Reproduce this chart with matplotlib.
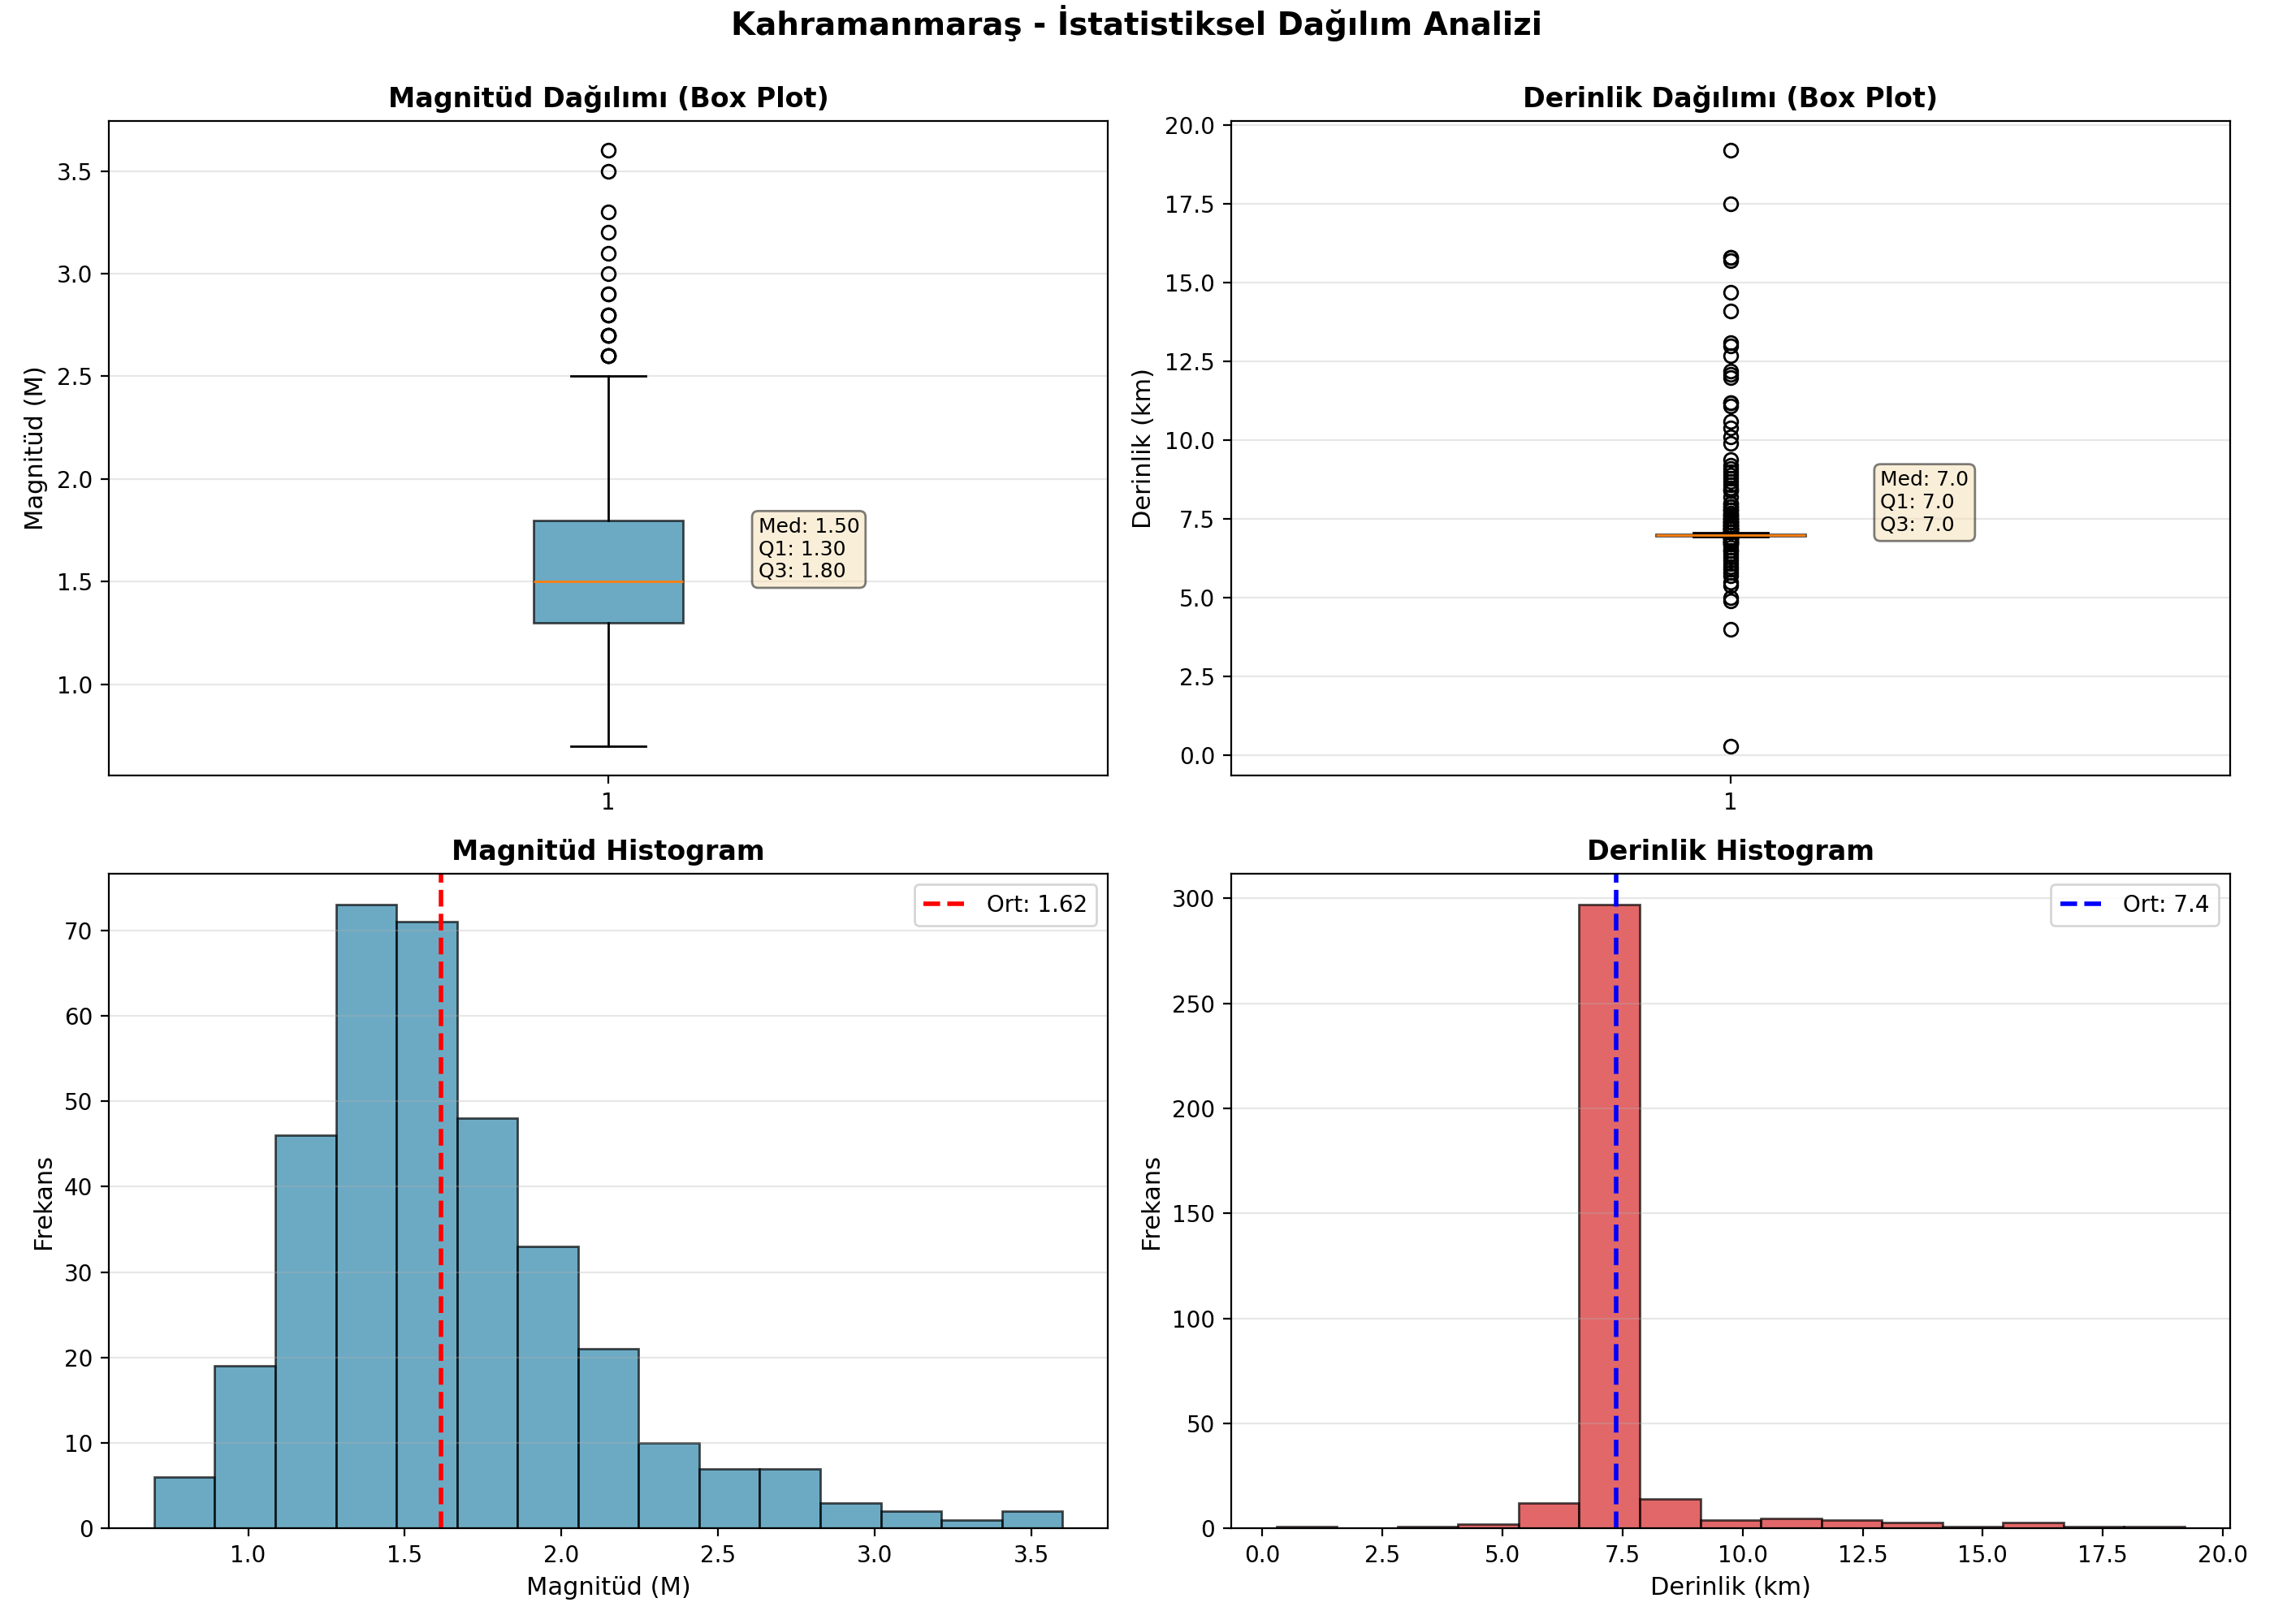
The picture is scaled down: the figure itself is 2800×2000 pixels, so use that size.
import matplotlib
matplotlib.use('Agg')
import matplotlib.pyplot as plt
import numpy as np

# Magnitude values (M) and how many events have each value
mag_values = [0.7, 0.8, 0.9, 1.0, 1.1, 1.2, 1.3, 1.4, 1.5, 1.6, 1.7, 1.8, 1.9, 2.0,
              2.1, 2.2, 2.3, 2.4, 2.5, 2.6, 2.7, 2.8, 2.9, 3.0, 3.1, 3.2, 3.3, 3.5, 3.6]
mag_counts = [2, 4, 8, 11, 21, 25, 36, 37, 38, 33, 22, 26, 18, 15,
              12, 9, 6, 4, 3, 4, 4, 3, 2, 1, 1, 1, 1, 1, 1]

# Depth values (km) and counts
depth_values = [0.3, 4.0, 4.9, 5.0, 5.4, 5.5, 5.7, 5.8, 5.9, 6.0, 6.1, 6.2, 6.3, 6.4, 6.5,
                6.6, 6.7, 6.8, 6.9, 6.93, 6.98, 7.0, 7.02, 7.07,
                7.1, 7.2, 7.3, 7.4, 7.5, 7.6, 7.7, 7.8,
                7.9, 8.0, 8.2, 8.4, 8.5, 8.6, 8.7, 8.8, 8.9, 9.0, 9.1,
                9.2, 9.4, 9.9, 10.1, 10.4, 10.6, 11.1, 11.2, 12.0, 12.1, 12.2, 12.7,
                13.0, 13.1, 14.1, 14.7, 15.7, 15.8, 17.5, 19.2]
depth_counts = [1, 1, 1, 1, 1, 1, 1, 1, 1, 1, 1, 1, 1, 1, 2,
                1, 3, 4, 5, 2, 60, 156, 30, 2,
                6, 6, 5, 5, 4, 3, 2, 3,
                2, 2, 1, 2, 1, 1, 1, 1, 1, 1, 1,
                1, 1, 1, 1, 1, 1, 1, 2, 1, 1, 1, 1,
                1, 1, 1, 1, 1, 2, 1, 1]

mags = np.repeat(mag_values, mag_counts)
depths = np.repeat(depth_values, depth_counts)

region = 'Kahramanmaraş'
color_mag = '#2E86AB'
color_depth = '#D62728'

fig, axes = plt.subplots(2, 2, figsize=(14, 10), dpi=200)
title = fig.suptitle(f'{region} - İstatistiksel Dağılım Analizi', fontsize=14, fontweight='bold')

# --- Magnitude box plot ---
ax1 = axes[0, 0]
bp = ax1.boxplot(mags, patch_artist=True, widths=0.15)
for patch in bp['boxes']:
    patch.set_facecolor(color_mag)
    patch.set_alpha(0.7)
ax1.set_title('Magnitüd Dağılımı (Box Plot)', fontsize=12, fontweight='bold')
ax1.set_ylabel('Magnitüd (M)', fontsize=11)
ax1.grid(axis='y', alpha=0.3)
q1, med, q3 = np.percentile(mags, [25, 50, 75])
ax1.text(1.15, med, f'Med: {med:.2f}\nQ1: {q1:.2f}\nQ3: {q3:.2f}',
         fontsize=9, va='bottom',
         bbox=dict(boxstyle='round', facecolor='wheat', alpha=0.5))

# --- Depth box plot ---
ax2 = axes[0, 1]
bp = ax2.boxplot(depths, patch_artist=True, widths=0.15)
for patch in bp['boxes']:
    patch.set_facecolor(color_depth)
    patch.set_alpha(0.7)
ax2.set_title('Derinlik Dağılımı (Box Plot)', fontsize=12, fontweight='bold')
ax2.set_ylabel('Derinlik (km)', fontsize=11)
ax2.grid(axis='y', alpha=0.3)
q1, med, q3 = np.percentile(depths, [25, 50, 75])
ax2.text(1.15, med, f'Med: {med:.1f}\nQ1: {q1:.1f}\nQ3: {q3:.1f}',
         fontsize=9, va='bottom',
         bbox=dict(boxstyle='round', facecolor='wheat', alpha=0.5))

# --- Magnitude histogram ---
ax3 = axes[1, 0]
ax3.hist(mags, bins=15, color=color_mag, alpha=0.7, edgecolor='black')
ax3.axvline(mags.mean(), color='red', linestyle='--', linewidth=2,
            label=f'Ort: {mags.mean():.2f}')
ax3.set_title('Magnitüd Histogram', fontsize=12, fontweight='bold')
ax3.set_xlabel('Magnitüd (M)', fontsize=11)
ax3.set_ylabel('Frekans', fontsize=11)
ax3.legend()
ax3.grid(axis='y', alpha=0.3)

# --- Depth histogram ---
ax4 = axes[1, 1]
ax4.hist(depths, bins=15, color=color_depth, alpha=0.7, edgecolor='black')
ax4.axvline(depths.mean(), color='blue', linestyle='--', linewidth=2,
            label=f'Ort: {depths.mean():.1f}')
ax4.set_title('Derinlik Histogram', fontsize=12, fontweight='bold')
ax4.set_xlabel('Derinlik (km)', fontsize=11)
ax4.set_ylabel('Frekans', fontsize=11)
ax4.legend()
ax4.grid(axis='y', alpha=0.3)

plt.tight_layout()
# title sits closer to the top edge than the default
title.set_y(0.997)
plt.savefig('out.png', dpi=200)
